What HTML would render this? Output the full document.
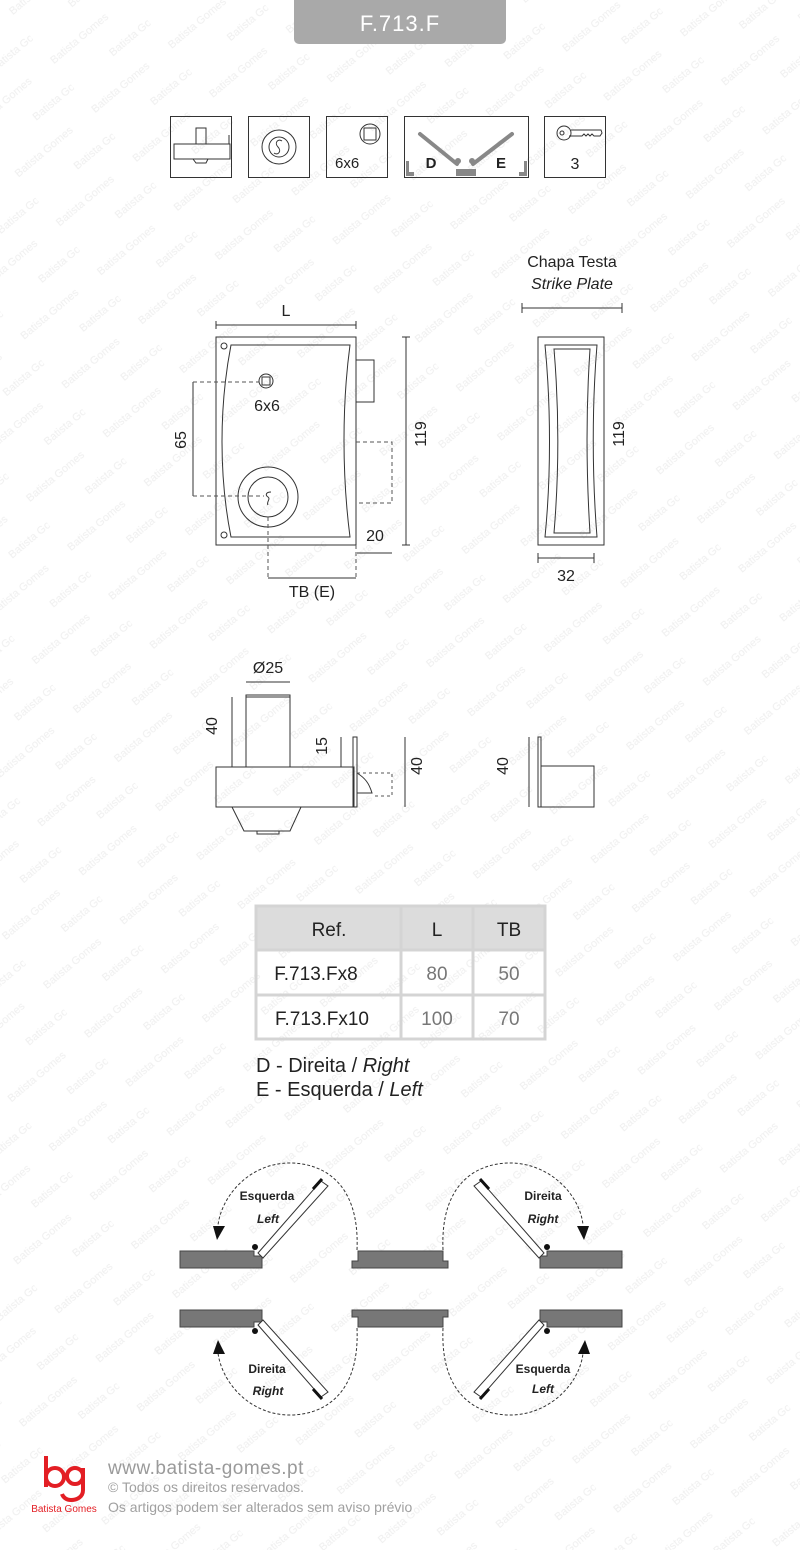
<!DOCTYPE html>
<html><head><meta charset="utf-8"><style>
html,body{margin:0;padding:0;background:#fff}
svg{display:block}
text{font-family:"Liberation Sans",sans-serif}
</style></head><body>
<svg width="800" height="1550" viewBox="0 0 800 1550" xmlns="http://www.w3.org/2000/svg">
<defs>
<pattern id="wm" width="100" height="64" patternUnits="userSpaceOnUse" patternTransform="rotate(-40)">
<text x="0" y="20" font-size="11" fill="#efefef">Batista Gomes</text>
<text x="50" y="52" font-size="11" fill="#efefef">Batista Gomes</text>
</pattern>
</defs>
<rect width="800" height="1550" fill="url(#wm)"/>

<!-- title -->
<rect x="294" y="-6" width="212" height="50" rx="5" fill="#a9a9a9"/>
<text x="400" y="31" font-size="22" fill="#fff" text-anchor="middle" letter-spacing="1">F.713.F</text>

<!-- icons -->
<g fill="none" stroke="#333" stroke-width="1">
<rect x="170.5" y="116.5" width="61" height="61"/>
<rect x="248.5" y="116.5" width="61" height="61"/>
<rect x="326.5" y="116.5" width="61" height="61"/>
<rect x="404.5" y="116.5" width="124" height="61"/>
<rect x="544.5" y="116.5" width="61" height="61"/>
<rect x="196" y="128" width="10" height="16"/>
<rect x="174" y="144" width="56" height="15"/>
<path d="M229 135V144"/>
<path d="M193 159l3 4h10l2-4"/>
<circle cx="279" cy="147" r="17"/><circle cx="279" cy="147" r="10"/>
<path d="M282 141c-4-3-8 2-4 6s0 9-4 6"/>
<circle cx="370" cy="134" r="10"/><rect x="364" y="128" width="12" height="12"/>
<circle cx="564" cy="133" r="7"/><circle cx="562" cy="133" r="2"/>
<path d="M571 130h30l1 3-2 3h-6l-2-2-2 2-2-2-2 2-2-2-2 2h-13"/>
</g>
<text x="335" y="168" font-size="15" fill="#222">6x6</text>
<text x="575" y="169" font-size="16" fill="#222" text-anchor="middle">3</text>
<g stroke="#888" stroke-width="4" fill="none" stroke-linecap="round">
<path d="M420 134L457 164"/><path d="M512 134L473 164"/>
</g>
<g fill="#888"><circle cx="458" cy="161" r="3"/><circle cx="472" cy="161" r="3"/>
<rect x="406" y="161" width="3" height="14"/><rect x="406" y="172" width="8" height="4"/>
<rect x="456" y="169" width="20" height="7"/>
<rect x="524" y="161" width="3" height="14"/><rect x="519" y="172" width="8" height="4"/></g>
<text x="431" y="168" font-size="15" fill="#222" text-anchor="middle" font-weight="bold">D</text>
<text x="501" y="168" font-size="15" fill="#222" text-anchor="middle" font-weight="bold">E</text>

<!-- front view -->
<g fill="none" stroke="#333" stroke-width="1">
<rect x="216" y="337" width="140" height="208"/>
<path d="M231 345H350c-8 60-8 130 0 192H231c-12-60-12-130 0-192z"/>
<circle cx="224" cy="346" r="3"/><circle cx="224" cy="535" r="3"/>
<rect x="356" y="360" width="18" height="42"/>
<circle cx="266" cy="381" r="7"/><rect x="262" y="377" width="8" height="8"/>
<circle cx="268" cy="497" r="30"/><circle cx="268" cy="497" r="20"/>
<path d="M271 492c-5 0-6 3-3 5s-2 5 0 8"/>
<path d="M216 325H356M216 321v8M356 321v8"/>
<path d="M406 337V545M402 337h8M402 545h8"/>
<path d="M193 382V496"/>
<path d="M357 553H392"/>
<path d="M268 578H356"/>
</g>
<g fill="none" stroke="#555" stroke-width="1" stroke-dasharray="4 3">
<path d="M193 382H259M193 496H264"/>
<path d="M356 442H392V503H356"/>
<path d="M268 517V578M356 545V578"/>
</g>
<text x="286" y="316" font-size="16" fill="#222" text-anchor="middle">L</text>
<text x="267" y="411" font-size="16" fill="#222" text-anchor="middle">6x6</text>
<text x="186" y="440" font-size="16" fill="#222" text-anchor="middle" transform="rotate(-90 186 440)">65</text>
<text x="432" y="440" font-size="16" fill="#222" text-anchor="middle" transform="rotate(-90 426 440)">119</text>
<text x="375" y="541" font-size="16" fill="#222" text-anchor="middle">20</text>
<text x="312" y="597" font-size="16" fill="#222" text-anchor="middle">TB (E)</text>

<!-- strike plate -->
<text x="572" y="267" font-size="16" fill="#222" text-anchor="middle">Chapa Testa</text>
<text x="572" y="289" font-size="16" fill="#222" text-anchor="middle" font-style="italic">Strike Plate</text>
<g fill="none" stroke="#333" stroke-width="1">
<path d="M522 308H622M522 303v10M622 303v10"/>
<rect x="538" y="337" width="66" height="208"/>
<path d="M545 345H597c-5 60-5 130 0 192H545c6-60 6-130 0-192z"/>
<path d="M554 349H590c-4 60-4 120 0 184H554c5-60 5-124 0-184z"/>
<path d="M538 558H594M538 553v10M594 553v10"/>
<path d="M604 337V545"/>
</g>
<text x="566" y="581" font-size="16" fill="#222" text-anchor="middle">32</text>
<text x="630" y="440" font-size="16" fill="#222" text-anchor="middle" transform="rotate(-90 624 440)">119</text>

<!-- side view -->
<g fill="none" stroke="#333" stroke-width="1">
<path d="M246 682H290"/>
<rect x="246" y="695" width="44" height="72"/>
<path d="M246 697H290"/>
<path d="M232 697V767"/>
<rect x="216" y="767" width="138" height="40"/>
<path d="M232 807l12 24h46l11-24"/>
<rect x="257" y="831" width="22" height="3"/>
<rect x="353" y="737" width="4" height="70"/>
<path d="M341 737V767"/>
<path d="M357 773c8 5 12 10 15 20H357"/>
<path d="M405 737V807"/>
<path d="M529 737V807"/>
<rect x="538" y="737" width="3" height="70"/>
<path d="M541 766H594V807H541"/>
</g>
<path d="M357 773H392V796H372" fill="none" stroke="#555" stroke-dasharray="3 3"/>
<text x="268" y="673" font-size="16" fill="#222" text-anchor="middle">Ø25</text>
<text x="223" y="732" font-size="16" fill="#222" text-anchor="middle" transform="rotate(-90 217 732)">40</text>
<text x="333" y="752" font-size="16" fill="#222" text-anchor="middle" transform="rotate(-90 327 752)">15</text>
<text x="428" y="772" font-size="16" fill="#222" text-anchor="middle" transform="rotate(-90 422 772)">40</text>
<text x="514" y="772" font-size="16" fill="#222" text-anchor="middle" transform="rotate(-90 508 772)">40</text>

<!-- table -->
<rect x="256" y="906" width="289" height="44" fill="#dcdcdc"/>
<g fill="none" stroke="#d4d4d4" stroke-width="3">
<rect x="256" y="906" width="289" height="133"/>
<path d="M256 950H545M256 995H545M401 906V1039M473 906V1039"/>
</g>
<g font-size="19" fill="#222" text-anchor="middle">
<text x="329" y="936">Ref.</text><text x="437" y="936">L</text><text x="509" y="936">TB</text>
<text x="316" y="980">F.713.Fx8</text><text x="437" y="980" fill="#777">80</text><text x="509" y="980" fill="#777">50</text>
<text x="322" y="1025">F.713.Fx10</text><text x="437" y="1025" fill="#777">100</text><text x="509" y="1025" fill="#777">70</text>
</g>
<text x="256" y="1072" font-size="20" fill="#222">D - Direita / <tspan font-style="italic">Right</tspan></text>
<text x="256" y="1096" font-size="20" fill="#222">E - Esquerda / <tspan font-style="italic">Left</tspan></text>

<!-- door swing diagrams -->
<g fill="#777" stroke="#444" stroke-width="1">
<path d="M180 1251H254V1256H262V1268H180z"/>
<path d="M358 1251H443V1261H448V1268H352V1261H358z"/>
<path d="M540 1256H547V1251H622V1268H540z"/>
<path d="M180 1310H262V1322H254V1327H180z"/>
<path d="M352 1310H448V1317H443V1327H358V1317H352z"/>
<path d="M540 1310H622V1327H547V1322H540z"/>
</g>
<g fill="#fff" stroke="#333" stroke-width="1">
<path d="M258 1253L321 1181L328 1186L263 1258z"/>
<path d="M544 1253L481 1181L474 1186L539 1258z"/>
<path d="M258 1325L321 1397L328 1392L263 1320z"/>
<path d="M544 1325L481 1397L474 1392L539 1320z"/>
</g>
<g stroke="#111" stroke-width="3">
<path d="M313 1189L322 1179"/><path d="M489 1189L480 1179"/>
<path d="M313 1389L322 1399"/><path d="M489 1389L480 1399"/>
</g>
<g fill="#111"><circle cx="255" cy="1247" r="3"/><circle cx="547" cy="1247" r="3"/>
<circle cx="255" cy="1331" r="3"/><circle cx="547" cy="1331" r="3"/></g>
<g fill="none" stroke="#333" stroke-dasharray="3 2">
<path d="M357 1250C360 1180 320 1163 290 1163C250 1163 222 1195 218 1225"/>
<path d="M443 1250C440 1180 480 1163 510 1163C550 1163 580 1195 583 1225"/>
<path d="M357 1328C360 1398 320 1415 290 1415C250 1415 222 1383 218 1353"/>
<path d="M443 1328C440 1398 480 1415 510 1415C550 1415 580 1383 583 1353"/>
</g>
<g fill="#111">
<path d="M213 1226L225 1226L217 1240z"/>
<path d="M577 1226L589 1226L584 1240z"/>
<path d="M213 1354L225 1354L218 1340z"/>
<path d="M578 1354L590 1354L585 1340z"/>
</g>
<g font-size="12" fill="#222" text-anchor="middle" font-weight="bold">
<text x="267" y="1200">Esquerda</text><text x="268" y="1223" font-style="italic">Left</text>
<text x="543" y="1200">Direita</text><text x="543" y="1223" font-style="italic">Right</text>
<text x="267" y="1373">Direita</text><text x="268" y="1395" font-style="italic">Right</text>
<text x="543" y="1373">Esquerda</text><text x="543" y="1393" font-style="italic">Left</text>
</g>

<!-- footer -->
<g fill="none" stroke="#e31e24" stroke-width="4">
<path d="M46 1456V1487"/><circle cx="55" cy="1477" r="9"/>
<circle cx="75" cy="1476" r="8"/><path d="M83 1468V1490c0 7-6 10-12 10c-5 0-8-3-9-6"/>
</g>
<text x="64" y="1512" font-size="10" fill="#e31e24" text-anchor="middle">Batista Gomes</text>
<text x="108" y="1474" font-size="19" fill="#9a9a9a" letter-spacing="0.5">www.batista-gomes.pt</text>
<text x="108" y="1492" font-size="14" fill="#a0a0a0">© Todos os direitos reservados.</text>
<text x="108" y="1512" font-size="14" fill="#a0a0a0">Os artigos podem ser alterados sem aviso prévio</text>
</svg>
</body></html>
